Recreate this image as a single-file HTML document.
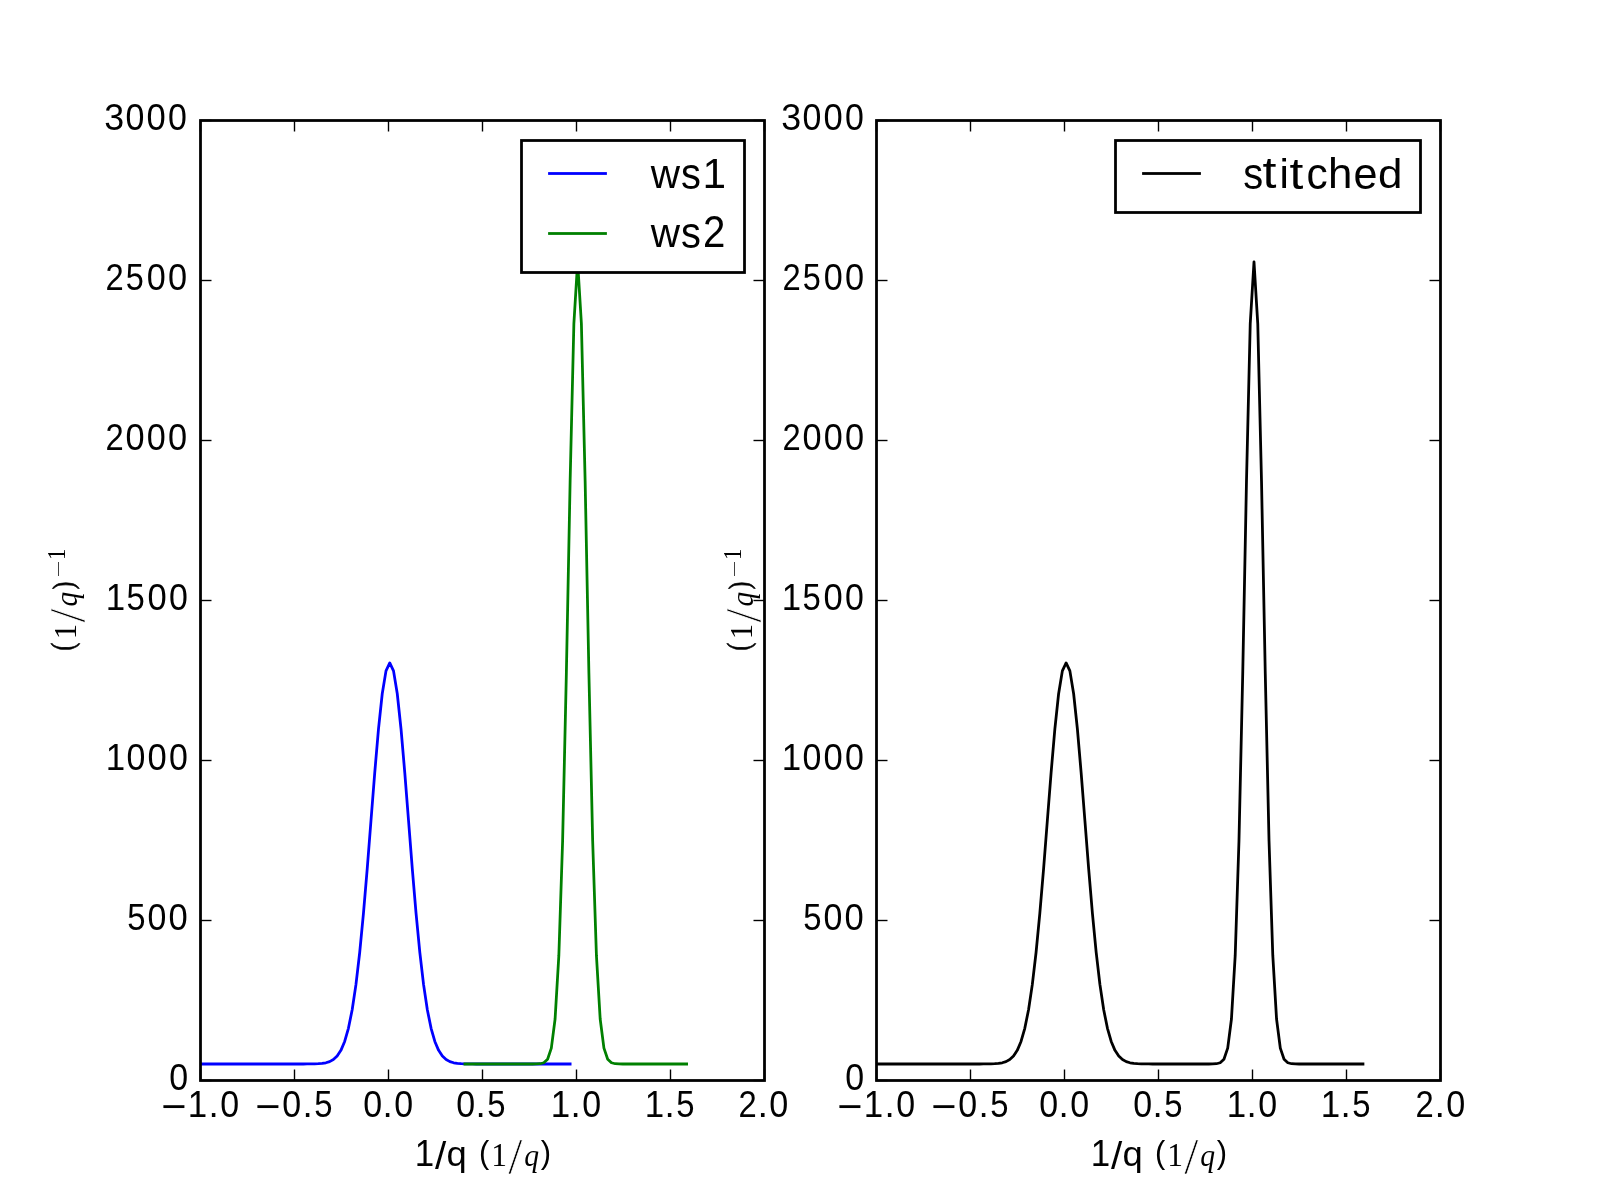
<!DOCTYPE html>
<html><head><meta charset="utf-8"><title>Stitch1D plot</title><style>html,body{margin:0;padding:0;background:#fff;width:1600px;height:1200px;overflow:hidden}svg{display:block;font-family:"Liberation Sans",sans-serif}</style></head><body><svg width="1600" height="1200" viewBox="0 0 1600 1200"><defs><clipPath id="c0"><rect x="200" y="120" width="563.636" height="960"/></clipPath><clipPath id="c1"><rect x="876.364" y="120" width="563.636" height="960"/></clipPath></defs><g clip-path="url(#c0)"><polyline fill="none" stroke-width="2.7778" stroke-linejoin="round" stroke-linecap="square" stroke="#0000ff" points="201.88,1064.00 205.64,1064.00 209.39,1064.00 213.15,1064.00 216.91,1064.00 220.67,1064.00 224.42,1064.00 228.18,1064.00 231.94,1064.00 235.70,1064.00 239.45,1064.00 243.21,1064.00 246.97,1064.00 250.73,1064.00 254.48,1064.00 258.24,1064.00 262.00,1064.00 265.76,1064.00 269.52,1064.00 273.27,1064.00 277.03,1064.00 280.79,1064.00 284.55,1064.00 288.30,1064.00 292.06,1064.00 295.82,1064.00 299.58,1064.00 303.33,1063.99 307.09,1063.97 310.85,1063.94 314.61,1063.87 318.36,1063.71 322.12,1063.38 325.88,1062.76 329.64,1061.60 333.39,1059.54 337.15,1056.04 340.91,1050.34 344.67,1041.49 348.42,1028.34 352.18,1009.72 355.94,984.63 359.70,952.49 363.45,913.48 367.21,868.78 370.97,820.74 374.73,772.77 378.48,729.01 382.24,693.77 386.00,670.88 389.76,662.94 393.52,670.88 397.27,693.77 401.03,729.01 404.79,772.77 408.55,820.74 412.30,868.78 416.06,913.48 419.82,952.49 423.58,984.63 427.33,1009.72 431.09,1028.34 434.85,1041.49 438.61,1050.34 442.36,1056.04 446.12,1059.54 449.88,1061.60 453.64,1062.76 457.39,1063.38 461.15,1063.71 464.91,1063.87 468.67,1063.94 472.42,1063.97 476.18,1063.99 479.94,1064.00 483.70,1064.00 487.45,1064.00 491.21,1064.00 494.97,1064.00 498.73,1064.00 502.48,1064.00 506.24,1064.00 510.00,1064.00 513.76,1064.00 517.52,1064.00 521.27,1064.00 525.03,1064.00 528.79,1064.00 532.55,1064.00 536.30,1064.00 540.06,1064.00 543.82,1064.00 547.58,1064.00 551.33,1064.00 555.09,1064.00 558.85,1064.00 562.61,1064.00 566.36,1064.00 570.12,1064.00"/><polyline fill="none" stroke-width="2.7778" stroke-linejoin="round" stroke-linecap="square" stroke="#008000" points="464.91,1064.00 468.67,1064.00 472.42,1064.00 476.18,1064.00 479.94,1064.00 483.70,1064.00 487.45,1064.00 491.21,1064.00 494.97,1064.00 498.73,1064.00 502.48,1064.00 506.24,1064.00 510.00,1064.00 513.76,1064.00 517.52,1064.00 521.27,1064.00 525.03,1064.00 528.79,1064.00 532.55,1063.99 536.30,1063.95 540.06,1063.73 543.82,1062.77 547.58,1059.21 551.33,1048.09 555.09,1018.97 558.85,955.44 562.61,840.98 566.36,673.57 570.12,481.54 573.88,323.55 577.64,261.88 581.39,323.55 585.15,481.54 588.91,673.57 592.67,840.98 596.42,955.44 600.18,1018.97 603.94,1048.09 607.70,1059.21 611.45,1062.77 615.21,1063.73 618.97,1063.95 622.73,1063.99 626.48,1064.00 630.24,1064.00 634.00,1064.00 637.76,1064.00 641.52,1064.00 645.27,1064.00 649.03,1064.00 652.79,1064.00 656.55,1064.00 660.30,1064.00 664.06,1064.00 667.82,1064.00 671.58,1064.00 675.33,1064.00 679.09,1064.00 682.85,1064.00 686.61,1064.00"/></g><g clip-path="url(#c1)"><polyline fill="none" stroke-width="2.7778" stroke-linejoin="round" stroke-linecap="square" stroke="#000000" points="878.24,1064.00 882.00,1064.00 885.76,1064.00 889.52,1064.00 893.27,1064.00 897.03,1064.00 900.79,1064.00 904.55,1064.00 908.30,1064.00 912.06,1064.00 915.82,1064.00 919.58,1064.00 923.33,1064.00 927.09,1064.00 930.85,1064.00 934.61,1064.00 938.36,1064.00 942.12,1064.00 945.88,1064.00 949.64,1064.00 953.39,1064.00 957.15,1064.00 960.91,1064.00 964.67,1064.00 968.42,1064.00 972.18,1064.00 975.94,1064.00 979.70,1063.99 983.45,1063.97 987.21,1063.94 990.97,1063.87 994.73,1063.71 998.48,1063.38 1002.24,1062.76 1006.00,1061.60 1009.76,1059.54 1013.52,1056.04 1017.27,1050.34 1021.03,1041.49 1024.79,1028.34 1028.55,1009.72 1032.30,984.63 1036.06,952.49 1039.82,913.48 1043.58,868.78 1047.33,820.74 1051.09,772.77 1054.85,729.01 1058.61,693.77 1062.36,670.88 1066.12,662.94 1069.88,670.88 1073.64,693.77 1077.39,729.01 1081.15,772.77 1084.91,820.74 1088.67,868.78 1092.42,913.48 1096.18,952.49 1099.94,984.63 1103.70,1009.72 1107.45,1028.34 1111.21,1041.49 1114.97,1050.34 1118.73,1056.04 1122.48,1059.54 1126.24,1061.60 1130.00,1062.76 1133.76,1063.38 1137.52,1063.71 1141.27,1063.87 1145.03,1063.94 1148.79,1063.97 1152.55,1063.99 1156.30,1064.00 1160.06,1064.00 1163.82,1064.00 1167.58,1064.00 1171.33,1064.00 1175.09,1064.00 1178.85,1064.00 1182.61,1064.00 1186.36,1064.00 1190.12,1064.00 1193.88,1064.00 1197.64,1064.00 1201.39,1064.00 1205.15,1064.00 1208.91,1063.99 1212.67,1063.95 1216.42,1063.73 1220.18,1062.77 1223.94,1059.21 1227.70,1048.09 1231.45,1018.97 1235.21,955.44 1238.97,840.98 1242.73,673.57 1246.48,481.54 1250.24,323.55 1254.00,261.88 1257.76,323.55 1261.52,481.54 1265.27,673.57 1269.03,840.98 1272.79,955.44 1276.55,1018.97 1280.30,1048.09 1284.06,1059.21 1287.82,1062.77 1291.58,1063.73 1295.33,1063.95 1299.09,1063.99 1302.85,1064.00 1306.61,1064.00 1310.36,1064.00 1314.12,1064.00 1317.88,1064.00 1321.64,1064.00 1325.39,1064.00 1329.15,1064.00 1332.91,1064.00 1336.67,1064.00 1340.42,1064.00 1344.18,1064.00 1347.94,1064.00 1351.70,1064.00 1355.45,1064.00 1359.21,1064.00 1362.97,1064.00"/></g><g stroke="#000" stroke-width="1.3889"><rect x="200.5" y="120.5" width="564" height="960" fill="none" stroke="#000" stroke-width="2.7778"/><line x1="200.5" y1="120.5" x2="200.5" y2="131.50"/><line x1="200.5" y1="1080.5" x2="200.5" y2="1069.50"/><line x1="200.5" y1="120.5" x2="211.50" y2="120.5"/><line x1="764.5" y1="120.5" x2="753.50" y2="120.5"/><line x1="294.5" y1="120.5" x2="294.5" y2="131.50"/><line x1="294.5" y1="1080.5" x2="294.5" y2="1069.50"/><line x1="200.5" y1="280.5" x2="211.50" y2="280.5"/><line x1="764.5" y1="280.5" x2="753.50" y2="280.5"/><line x1="388.5" y1="120.5" x2="388.5" y2="131.50"/><line x1="388.5" y1="1080.5" x2="388.5" y2="1069.50"/><line x1="200.5" y1="440.5" x2="211.50" y2="440.5"/><line x1="764.5" y1="440.5" x2="753.50" y2="440.5"/><line x1="482.5" y1="120.5" x2="482.5" y2="131.50"/><line x1="482.5" y1="1080.5" x2="482.5" y2="1069.50"/><line x1="200.5" y1="600.5" x2="211.50" y2="600.5"/><line x1="764.5" y1="600.5" x2="753.50" y2="600.5"/><line x1="576.5" y1="120.5" x2="576.5" y2="131.50"/><line x1="576.5" y1="1080.5" x2="576.5" y2="1069.50"/><line x1="200.5" y1="760.5" x2="211.50" y2="760.5"/><line x1="764.5" y1="760.5" x2="753.50" y2="760.5"/><line x1="670.5" y1="120.5" x2="670.5" y2="131.50"/><line x1="670.5" y1="1080.5" x2="670.5" y2="1069.50"/><line x1="200.5" y1="920.5" x2="211.50" y2="920.5"/><line x1="764.5" y1="920.5" x2="753.50" y2="920.5"/><line x1="764.5" y1="120.5" x2="764.5" y2="131.50"/><line x1="764.5" y1="1080.5" x2="764.5" y2="1069.50"/><line x1="200.5" y1="1080.5" x2="211.50" y2="1080.5"/><line x1="764.5" y1="1080.5" x2="753.50" y2="1080.5"/></g><g stroke="#000" stroke-width="1.3889"><rect x="876.5" y="120.5" width="564" height="960" fill="none" stroke="#000" stroke-width="2.7778"/><line x1="876.5" y1="120.5" x2="876.5" y2="131.50"/><line x1="876.5" y1="1080.5" x2="876.5" y2="1069.50"/><line x1="876.5" y1="120.5" x2="887.50" y2="120.5"/><line x1="1440.5" y1="120.5" x2="1429.50" y2="120.5"/><line x1="970.5" y1="120.5" x2="970.5" y2="131.50"/><line x1="970.5" y1="1080.5" x2="970.5" y2="1069.50"/><line x1="876.5" y1="280.5" x2="887.50" y2="280.5"/><line x1="1440.5" y1="280.5" x2="1429.50" y2="280.5"/><line x1="1064.5" y1="120.5" x2="1064.5" y2="131.50"/><line x1="1064.5" y1="1080.5" x2="1064.5" y2="1069.50"/><line x1="876.5" y1="440.5" x2="887.50" y2="440.5"/><line x1="1440.5" y1="440.5" x2="1429.50" y2="440.5"/><line x1="1158.5" y1="120.5" x2="1158.5" y2="131.50"/><line x1="1158.5" y1="1080.5" x2="1158.5" y2="1069.50"/><line x1="876.5" y1="600.5" x2="887.50" y2="600.5"/><line x1="1440.5" y1="600.5" x2="1429.50" y2="600.5"/><line x1="1252.5" y1="120.5" x2="1252.5" y2="131.50"/><line x1="1252.5" y1="1080.5" x2="1252.5" y2="1069.50"/><line x1="876.5" y1="760.5" x2="887.50" y2="760.5"/><line x1="1440.5" y1="760.5" x2="1429.50" y2="760.5"/><line x1="1346.5" y1="120.5" x2="1346.5" y2="131.50"/><line x1="1346.5" y1="1080.5" x2="1346.5" y2="1069.50"/><line x1="876.5" y1="920.5" x2="887.50" y2="920.5"/><line x1="1440.5" y1="920.5" x2="1429.50" y2="920.5"/><line x1="1440.5" y1="120.5" x2="1440.5" y2="131.50"/><line x1="1440.5" y1="1080.5" x2="1440.5" y2="1069.50"/><line x1="876.5" y1="1080.5" x2="887.50" y2="1080.5"/><line x1="1440.5" y1="1080.5" x2="1429.50" y2="1080.5"/></g><rect x="521.5" y="140.5" width="223" height="132" fill="#fff" stroke="#000" stroke-width="2.7778"/><rect x="1115.5" y="140.5" width="305" height="72" fill="#fff" stroke="#000" stroke-width="2.7778"/><rect x="548.111" y="172.111" width="58.778" height="2.7778" fill="#0000ff"/><rect x="548.111" y="232.111" width="58.778" height="2.7778" fill="#008000"/><rect x="1142.111" y="172.111" width="58.778" height="2.7778" fill="#000"/><g font-size="100" fill="#000" opacity="0.999"><text class="ti" font-family="'Liberation Sans', sans-serif" transform="matrix(0.33927 0 0 0.37739 169.143 1089.623)">0</text><text class="ti" font-family="'Liberation Sans', sans-serif" transform="matrix(0.32842 0 0 0.37133 127.186 929.929)">5</text><text class="ti" font-family="'Liberation Sans', sans-serif" transform="matrix(0.33927 0 0 0.37314 147.443 929.727)">0</text><text class="ti" font-family="'Liberation Sans', sans-serif" transform="matrix(0.34555 0 0 0.37413 168.518 929.626)">0</text><text class="ti" font-family="'Liberation Sans', sans-serif" transform="matrix(0.34913 0 0 0.36684 105.682 770.000)">1</text><text class="ti" font-family="'Liberation Sans', sans-serif" transform="matrix(0.33927 0 0 0.37314 126.443 769.727)">0</text><text class="ti" font-family="'Liberation Sans', sans-serif" transform="matrix(0.34555 0 0 0.37413 147.518 769.626)">0</text><text class="ti" font-family="'Liberation Sans', sans-serif" transform="matrix(0.33927 0 0 0.37102 168.943 769.729)">0</text><text class="ti" font-family="'Liberation Sans', sans-serif" transform="matrix(0.34913 0 0 0.36684 105.682 610.000)">1</text><text class="ti" font-family="'Liberation Sans', sans-serif" transform="matrix(0.32842 0 0 0.36129 126.486 609.639)">5</text><text class="ti" font-family="'Liberation Sans', sans-serif" transform="matrix(0.34555 0 0 0.37413 147.518 609.626)">0</text><text class="ti" font-family="'Liberation Sans', sans-serif" transform="matrix(0.33927 0 0 0.37102 168.943 609.729)">0</text><text class="ti" font-family="'Liberation Sans', sans-serif" transform="matrix(0.32747 0 0 0.37419 105.563 450.000)">2</text><text class="ti" font-family="'Liberation Sans', sans-serif" transform="matrix(0.34304 0 0 0.36862 125.428 449.831)">0</text><text class="ti" font-family="'Liberation Sans', sans-serif" transform="matrix(0.34136 0 0 0.37032 146.735 449.630)">0</text><text class="ti" font-family="'Liberation Sans', sans-serif" transform="matrix(0.34304 0 0 0.37173 167.948 449.628)">0</text><text class="ti" font-family="'Liberation Sans', sans-serif" transform="matrix(0.32747 0 0 0.37419 105.563 290.000)">2</text><text class="ti" font-family="'Liberation Sans', sans-serif" transform="matrix(0.32421 0 0 0.36129 125.703 289.639)">5</text><text class="ti" font-family="'Liberation Sans', sans-serif" transform="matrix(0.34136 0 0 0.37032 146.735 289.630)">0</text><text class="ti" font-family="'Liberation Sans', sans-serif" transform="matrix(0.34304 0 0 0.37173 167.948 289.628)">0</text><text class="ti" font-family="'Liberation Sans', sans-serif" transform="matrix(0.35789 0 0 0.36353 104.158 129.536)">3</text><text class="ti" font-family="'Liberation Sans', sans-serif" transform="matrix(0.33927 0 0 0.37314 125.443 129.727)">0</text><text class="ti" font-family="'Liberation Sans', sans-serif" transform="matrix(0.34555 0 0 0.37413 146.518 129.626)">0</text><text class="ti" font-family="'Liberation Sans', sans-serif" transform="matrix(0.33927 0 0 0.37102 167.943 129.729)">0</text><text class="ti" font-family="'Liberation Sans', sans-serif" transform="matrix(0.43299 0 0 0.40000 161.235 1119.900)">−</text><text class="ti" font-family="'Liberation Sans', sans-serif" transform="matrix(0.34913 0 0 0.36684 187.682 1117.000)">1</text><text class="ti" font-family="'Liberation Sans', sans-serif" transform="matrix(0.36842 0 0 0.37209 208.492 1117.000)">.</text><text class="ti" font-family="'Liberation Sans', sans-serif" transform="matrix(0.33927 0 0 0.37739 220.143 1116.623)">0</text><text class="ti" font-family="'Liberation Sans', sans-serif" transform="matrix(0.43299 0 0 0.40000 255.235 1119.900)">−</text><text class="ti" font-family="'Liberation Sans', sans-serif" transform="matrix(0.33927 0 0 0.37739 282.143 1116.623)">0</text><text class="ti" font-family="'Liberation Sans', sans-serif" transform="matrix(0.36842 0 0 0.37209 302.492 1117.000)">.</text><text class="ti" font-family="'Liberation Sans', sans-serif" transform="matrix(0.32842 0 0 0.37133 314.186 1116.929)">5</text><text class="ti" font-family="'Liberation Sans', sans-serif" transform="matrix(0.33927 0 0 0.37739 363.143 1116.623)">0</text><text class="ti" font-family="'Liberation Sans', sans-serif" transform="matrix(0.36842 0 0 0.37209 382.492 1117.000)">.</text><text class="ti" font-family="'Liberation Sans', sans-serif" transform="matrix(0.33927 0 0 0.37739 394.143 1116.623)">0</text><text class="ti" font-family="'Liberation Sans', sans-serif" transform="matrix(0.33927 0 0 0.37739 456.143 1116.623)">0</text><text class="ti" font-family="'Liberation Sans', sans-serif" transform="matrix(0.36842 0 0 0.37209 475.492 1117.000)">.</text><text class="ti" font-family="'Liberation Sans', sans-serif" transform="matrix(0.32842 0 0 0.37133 487.186 1116.929)">5</text><text class="ti" font-family="'Liberation Sans', sans-serif" transform="matrix(0.34913 0 0 0.36684 550.682 1117.000)">1</text><text class="ti" font-family="'Liberation Sans', sans-serif" transform="matrix(0.36842 0 0 0.37209 570.492 1117.000)">.</text><text class="ti" font-family="'Liberation Sans', sans-serif" transform="matrix(0.33927 0 0 0.37739 582.143 1116.623)">0</text><text class="ti" font-family="'Liberation Sans', sans-serif" transform="matrix(0.34913 0 0 0.36684 644.682 1117.000)">1</text><text class="ti" font-family="'Liberation Sans', sans-serif" transform="matrix(0.36842 0 0 0.37209 664.492 1117.000)">.</text><text class="ti" font-family="'Liberation Sans', sans-serif" transform="matrix(0.32842 0 0 0.37133 676.186 1116.929)">5</text><text class="ti" font-family="'Liberation Sans', sans-serif" transform="matrix(0.32747 0 0 0.37419 738.563 1117.000)">2</text><text class="ti" font-family="'Liberation Sans', sans-serif" transform="matrix(0.37895 0 0 0.37209 757.595 1117.000)">.</text><text class="ti" font-family="'Liberation Sans', sans-serif" transform="matrix(0.34136 0 0 0.37032 769.235 1116.630)">0</text><text class="ti" font-family="'Liberation Sans', sans-serif" transform="matrix(0.34913 0 0 0.36684 414.682 1166.000)">1</text><text class="ti" font-family="'Liberation Sans', sans-serif" transform="matrix(0.40432 0 0 0.39306 434.880 1169.027)">/</text><text class="ti" font-family="'Liberation Sans', sans-serif" transform="matrix(0.36400 0 0 0.34497 446.553 1165.722)">q</text><text class="ti" font-family="'Liberation Sans', sans-serif" transform="matrix(0.30857 0 0 0.30627 478.971 1163.025)">(</text><text class="ti" font-family="'Liberation Serif', serif" transform="matrix(0.31489 0 0 0.33788 491.345 1166.000)">1</text><text class="ti" font-family="'Liberation Serif', serif" stroke="#fff" stroke-width="1.4" transform="matrix(0.50811 0 0 0.50299 508.200 1173.497)">/</text><text class="ti" font-family="'Liberation Serif', serif" font-style="italic" transform="matrix(0.29650 0 0 0.30916 524.136 1166.130)">q</text><text class="ti" font-family="'Liberation Sans', sans-serif" transform="matrix(0.30933 0 0 0.30735 540.648 1163.203)">)</text><text class="ti" font-family="'Liberation Serif', serif" stroke="#000" stroke-width="2.5" transform="matrix(0 -0.22745 0.31160 0 73.178 650.424)">(</text><text class="ti" font-family="'Liberation Serif', serif" transform="matrix(0 -0.30638 0.32000 0 76.000 639.281)">1</text><text class="ti" font-family="'Liberation Serif', serif" stroke="#fff" stroke-width="1.4" transform="matrix(0 -0.50162 0.51493 0 84.365 622.620)">/</text><text class="ti" font-family="'Liberation Serif', serif" font-style="italic" transform="matrix(0 -0.29153 0.31355 0 77.037 606.447)">q</text><text class="ti" font-family="'Liberation Serif', serif" stroke="#000" stroke-width="2.5" transform="matrix(0 -0.22524 0.30497 0 73.319 589.132)">)</text><text class="ti" font-family="'Liberation Serif', serif" transform="matrix(0 -0.22979 0.26212 0 64.500 559.911)">1</text><text class="ti" font-family="'Liberation Sans', sans-serif" transform="matrix(0.33927 0 0 0.37739 845.143 1089.623)">0</text><text class="ti" font-family="'Liberation Sans', sans-serif" transform="matrix(0.32842 0 0 0.37133 803.186 929.929)">5</text><text class="ti" font-family="'Liberation Sans', sans-serif" transform="matrix(0.33927 0 0 0.37314 823.443 929.727)">0</text><text class="ti" font-family="'Liberation Sans', sans-serif" transform="matrix(0.34555 0 0 0.37413 844.518 929.626)">0</text><text class="ti" font-family="'Liberation Sans', sans-serif" transform="matrix(0.34913 0 0 0.36684 781.682 770.000)">1</text><text class="ti" font-family="'Liberation Sans', sans-serif" transform="matrix(0.33927 0 0 0.37314 802.443 769.727)">0</text><text class="ti" font-family="'Liberation Sans', sans-serif" transform="matrix(0.34555 0 0 0.37413 823.518 769.626)">0</text><text class="ti" font-family="'Liberation Sans', sans-serif" transform="matrix(0.33927 0 0 0.37102 844.943 769.729)">0</text><text class="ti" font-family="'Liberation Sans', sans-serif" transform="matrix(0.34913 0 0 0.36684 781.682 610.000)">1</text><text class="ti" font-family="'Liberation Sans', sans-serif" transform="matrix(0.32842 0 0 0.36129 802.486 609.639)">5</text><text class="ti" font-family="'Liberation Sans', sans-serif" transform="matrix(0.34555 0 0 0.37413 823.518 609.626)">0</text><text class="ti" font-family="'Liberation Sans', sans-serif" transform="matrix(0.33927 0 0 0.37102 844.943 609.729)">0</text><text class="ti" font-family="'Liberation Sans', sans-serif" transform="matrix(0.32747 0 0 0.37419 782.563 450.000)">2</text><text class="ti" font-family="'Liberation Sans', sans-serif" transform="matrix(0.34304 0 0 0.36862 802.428 449.831)">0</text><text class="ti" font-family="'Liberation Sans', sans-serif" transform="matrix(0.34136 0 0 0.37032 823.735 449.630)">0</text><text class="ti" font-family="'Liberation Sans', sans-serif" transform="matrix(0.34304 0 0 0.37173 844.948 449.628)">0</text><text class="ti" font-family="'Liberation Sans', sans-serif" transform="matrix(0.32747 0 0 0.37419 782.563 290.000)">2</text><text class="ti" font-family="'Liberation Sans', sans-serif" transform="matrix(0.32421 0 0 0.36129 802.703 289.639)">5</text><text class="ti" font-family="'Liberation Sans', sans-serif" transform="matrix(0.34136 0 0 0.37032 823.735 289.630)">0</text><text class="ti" font-family="'Liberation Sans', sans-serif" transform="matrix(0.34304 0 0 0.37173 844.948 289.628)">0</text><text class="ti" font-family="'Liberation Sans', sans-serif" transform="matrix(0.35789 0 0 0.36353 781.158 129.536)">3</text><text class="ti" font-family="'Liberation Sans', sans-serif" transform="matrix(0.33927 0 0 0.37314 802.443 129.727)">0</text><text class="ti" font-family="'Liberation Sans', sans-serif" transform="matrix(0.34555 0 0 0.37413 823.518 129.626)">0</text><text class="ti" font-family="'Liberation Sans', sans-serif" transform="matrix(0.33927 0 0 0.37102 844.943 129.729)">0</text><text class="ti" font-family="'Liberation Sans', sans-serif" transform="matrix(0.43299 0 0 0.40000 837.235 1119.900)">−</text><text class="ti" font-family="'Liberation Sans', sans-serif" transform="matrix(0.34913 0 0 0.36684 863.682 1117.000)">1</text><text class="ti" font-family="'Liberation Sans', sans-serif" transform="matrix(0.36842 0 0 0.37209 884.492 1117.000)">.</text><text class="ti" font-family="'Liberation Sans', sans-serif" transform="matrix(0.33927 0 0 0.37739 896.143 1116.623)">0</text><text class="ti" font-family="'Liberation Sans', sans-serif" transform="matrix(0.43299 0 0 0.40000 931.235 1119.900)">−</text><text class="ti" font-family="'Liberation Sans', sans-serif" transform="matrix(0.33927 0 0 0.37739 958.143 1116.623)">0</text><text class="ti" font-family="'Liberation Sans', sans-serif" transform="matrix(0.36842 0 0 0.37209 978.492 1117.000)">.</text><text class="ti" font-family="'Liberation Sans', sans-serif" transform="matrix(0.32842 0 0 0.37133 990.186 1116.929)">5</text><text class="ti" font-family="'Liberation Sans', sans-serif" transform="matrix(0.33927 0 0 0.37739 1039.143 1116.623)">0</text><text class="ti" font-family="'Liberation Sans', sans-serif" transform="matrix(0.36842 0 0 0.37209 1058.492 1117.000)">.</text><text class="ti" font-family="'Liberation Sans', sans-serif" transform="matrix(0.33927 0 0 0.37739 1070.143 1116.623)">0</text><text class="ti" font-family="'Liberation Sans', sans-serif" transform="matrix(0.33927 0 0 0.37739 1133.143 1116.623)">0</text><text class="ti" font-family="'Liberation Sans', sans-serif" transform="matrix(0.36842 0 0 0.37209 1152.492 1117.000)">.</text><text class="ti" font-family="'Liberation Sans', sans-serif" transform="matrix(0.32842 0 0 0.37133 1164.186 1116.929)">5</text><text class="ti" font-family="'Liberation Sans', sans-serif" transform="matrix(0.34913 0 0 0.36684 1226.682 1117.000)">1</text><text class="ti" font-family="'Liberation Sans', sans-serif" transform="matrix(0.36842 0 0 0.37209 1246.492 1117.000)">.</text><text class="ti" font-family="'Liberation Sans', sans-serif" transform="matrix(0.33927 0 0 0.37739 1258.143 1116.623)">0</text><text class="ti" font-family="'Liberation Sans', sans-serif" transform="matrix(0.34913 0 0 0.36684 1320.682 1117.000)">1</text><text class="ti" font-family="'Liberation Sans', sans-serif" transform="matrix(0.36842 0 0 0.37209 1340.492 1117.000)">.</text><text class="ti" font-family="'Liberation Sans', sans-serif" transform="matrix(0.32842 0 0 0.37133 1352.186 1116.929)">5</text><text class="ti" font-family="'Liberation Sans', sans-serif" transform="matrix(0.32747 0 0 0.37419 1415.563 1117.000)">2</text><text class="ti" font-family="'Liberation Sans', sans-serif" transform="matrix(0.37895 0 0 0.37209 1434.595 1117.000)">.</text><text class="ti" font-family="'Liberation Sans', sans-serif" transform="matrix(0.34136 0 0 0.37032 1446.235 1116.630)">0</text><text class="ti" font-family="'Liberation Sans', sans-serif" transform="matrix(0.34913 0 0 0.36684 1090.682 1166.000)">1</text><text class="ti" font-family="'Liberation Sans', sans-serif" transform="matrix(0.40432 0 0 0.39306 1110.880 1169.027)">/</text><text class="ti" font-family="'Liberation Sans', sans-serif" transform="matrix(0.36400 0 0 0.34497 1122.553 1165.722)">q</text><text class="ti" font-family="'Liberation Sans', sans-serif" transform="matrix(0.30857 0 0 0.30627 1154.971 1163.025)">(</text><text class="ti" font-family="'Liberation Serif', serif" transform="matrix(0.31489 0 0 0.33788 1167.345 1166.000)">1</text><text class="ti" font-family="'Liberation Serif', serif" stroke="#fff" stroke-width="1.4" transform="matrix(0.50811 0 0 0.50299 1184.200 1173.497)">/</text><text class="ti" font-family="'Liberation Serif', serif" font-style="italic" transform="matrix(0.29650 0 0 0.30916 1200.136 1166.130)">q</text><text class="ti" font-family="'Liberation Sans', sans-serif" transform="matrix(0.30933 0 0 0.30735 1216.648 1163.203)">)</text><text class="ti" font-family="'Liberation Serif', serif" stroke="#000" stroke-width="2.5" transform="matrix(0 -0.22745 0.31160 0 749.178 650.424)">(</text><text class="ti" font-family="'Liberation Serif', serif" transform="matrix(0 -0.30638 0.32000 0 752.000 639.281)">1</text><text class="ti" font-family="'Liberation Serif', serif" stroke="#fff" stroke-width="1.4" transform="matrix(0 -0.50162 0.51493 0 760.365 622.620)">/</text><text class="ti" font-family="'Liberation Serif', serif" font-style="italic" transform="matrix(0 -0.29153 0.31355 0 753.037 606.447)">q</text><text class="ti" font-family="'Liberation Serif', serif" stroke="#000" stroke-width="2.5" transform="matrix(0 -0.22524 0.30497 0 749.319 589.132)">)</text><text class="ti" font-family="'Liberation Serif', serif" transform="matrix(0 -0.22979 0.26212 0 740.500 559.911)">1</text><text class="ti" font-family="'Liberation Sans', sans-serif" transform="matrix(0.40524 0 0 0.40152 650.820 188.000)">w</text><text class="ti" font-family="'Liberation Sans', sans-serif" transform="matrix(0.39817 0 0 0.43616 680.885 188.564)">s</text><text class="ti" font-family="'Liberation Sans', sans-serif" transform="matrix(0.42312 0 0 0.42182 702.427 188.000)">1</text><text class="ti" font-family="'Liberation Sans', sans-serif" transform="matrix(0.40524 0 0 0.40152 650.820 247.000)">w</text><text class="ti" font-family="'Liberation Sans', sans-serif" transform="matrix(0.39817 0 0 0.43616 680.885 247.564)">s</text><text class="ti" font-family="'Liberation Sans', sans-serif" transform="matrix(0.40220 0 0 0.44588 703.089 246.500)">2</text><text class="ti" font-family="'Liberation Sans', sans-serif" transform="matrix(0.39817 0 0 0.44895 1243.205 188.631)">s</text><text class="ti" font-family="'Liberation Sans', sans-serif" transform="matrix(0.50196 0 0 0.44733 1262.447 188.065)">t</text><text class="ti" font-family="'Liberation Sans', sans-serif" transform="matrix(0.42057 0 0 0.40855 1279.581 187.500)">i</text><text class="ti" font-family="'Liberation Sans', sans-serif" transform="matrix(0.49804 0 0 0.45191 1289.553 188.661)">t</text><text class="ti" font-family="'Liberation Sans', sans-serif" transform="matrix(0.42372 0 0 0.43763 1306.379 188.562)">c</text><text class="ti" font-family="'Liberation Sans', sans-serif" transform="matrix(0.43857 0 0 0.43172 1327.910 188.000)">h</text><text class="ti" font-family="'Liberation Sans', sans-serif" transform="matrix(0.43149 0 0 0.44639 1353.586 188.674)">e</text><text class="ti" font-family="'Liberation Sans', sans-serif" transform="matrix(0.43956 0 0 0.40544 1377.902 187.795)">d</text></g><rect x="58" y="562" width="1" height="14" fill="#414141"/><rect x="734" y="562" width="1" height="14" fill="#414141"/></svg></body></html>
